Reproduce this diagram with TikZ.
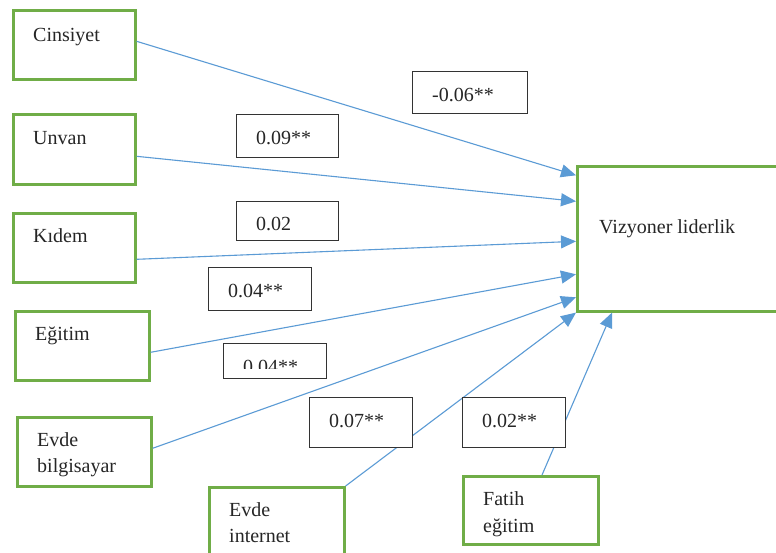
\documentclass[tikz,border=0pt]{standalone}
\usepackage{fontspec}
\setmainfont{Liberation Serif}
\usetikzlibrary{arrows.meta}
\definecolor{boxgreen}{HTML}{70AD47}
\definecolor{linkblue}{HTML}{5B9BD5}
\definecolor{framegray}{HTML}{333333}
\tikzset{
  gbox/.style={draw=boxgreen, line width=2.6pt, fill=white, inner sep=0pt, anchor=north west},
  lbox/.style={draw=framegray, line width=1.3pt, fill=white, inner sep=0pt, anchor=north west},
  txt/.style={font=\fontsize{20}{24}\selectfont, text=black!85, inner sep=0pt, anchor=base west},
  link/.style={draw=linkblue, line width=1.1pt, -{Triangle[length=15pt,width=13pt]}},
}
\begin{document}
\begin{tikzpicture}[x=1pt,y=-1pt]
\useasboundingbox (0,0) rectangle (776,552);
\clip (0,0) rectangle (776,552);
\fill[white] (0,0) rectangle (776,552);

% predictor boxes
\node[gbox, minimum width=122pt, minimum height=69pt] (cins) at (12,9) {};
\node[gbox, minimum width=122pt, minimum height=70pt] (unv) at (12,113) {};
\node[gbox, minimum width=122pt, minimum height=69pt] (kid) at (12,212) {};
\node[gbox, minimum width=134pt, minimum height=69pt] (egi) at (14,310) {};
\node[gbox, minimum width=134pt, minimum height=69pt] (bilg) at (16,416) {};
\node[gbox, minimum width=135pt, minimum height=75pt] (inet) at (208,486) {};
\node[gbox, minimum width=135pt, minimum height=68pt] (fatih) at (462,475) {};
% outcome box
\node[gbox, minimum width=220pt, minimum height=145pt] (viz) at (576,165) {};

\node[txt] at (33,41) {Cinsiyet};
\node[txt] at (33,144) {Unvan};
\node[txt] at (33,242) {Kıdem};
\node[txt] at (35,340) {Eğitim};
\node[txt] at (37,446) {Evde};
\node[txt] at (37,472) {bilgisayar};
\node[txt] at (229,516) {Evde};
\node[txt] at (229,542) {internet};
\node[txt] at (483,505) {Fatih};
\node[txt] at (483,532) {eğitim};
\node[txt] at (599,233) {Vizyoner liderlik};

% paths
\draw[link] ([yshift=3.5pt]cins.east) -- ([yshift=63.5pt]viz.west);
\draw[link] ([yshift=-7pt]unv.east) -- ([yshift=37.5pt]viz.west);
\draw[link] ([yshift=-11.5pt]kid.east) -- ([yshift=-2.5pt]viz.west);
\draw[link] ([yshift=-6.5pt]egi.east) -- ([yshift=-35.5pt]viz.west);
\draw[link] ([yshift=3.5pt]bilg.east) -- ([yshift=-58.5pt]viz.west);
\draw[link] (inet.north east) -- (viz.south west);
\draw[link] ([xshift=80pt]fatih.north west) -- ([xshift=36pt]viz.south west);

% coefficient labels
\node[lbox, minimum width=115pt, minimum height=42pt] (l1) at (412,71) {};
\node[txt] at (432,101) {-0.06**};
\node[lbox, minimum width=102pt, minimum height=43pt] (l2) at (236,114) {};
\node[txt] at (256,144) {0.09**};
\node[lbox, minimum width=102pt, minimum height=39pt] (l3) at (236,201) {};
\node[txt] at (256,230) {0.02};
\node[lbox, minimum width=103pt, minimum height=43pt] (l4) at (208,267) {};
\node[txt] at (228,297) {0.04**};
\node[lbox, minimum width=103pt, minimum height=35pt] (l5) at (223,343) {};
\begin{scope}
  \clip (l5.north west) rectangle ([yshift=11pt]l5.south east);
  \node[txt] at (243,373) {0.04**};
\end{scope}
\node[lbox, minimum width=103pt, minimum height=50pt] (l6) at (309,397) {};
\node[txt] at (329,427) {0.07**};
\node[lbox, minimum width=103pt, minimum height=50pt] (l7) at (462,397) {};
\node[txt] at (482,427) {0.02**};
\end{tikzpicture}
\end{document}
